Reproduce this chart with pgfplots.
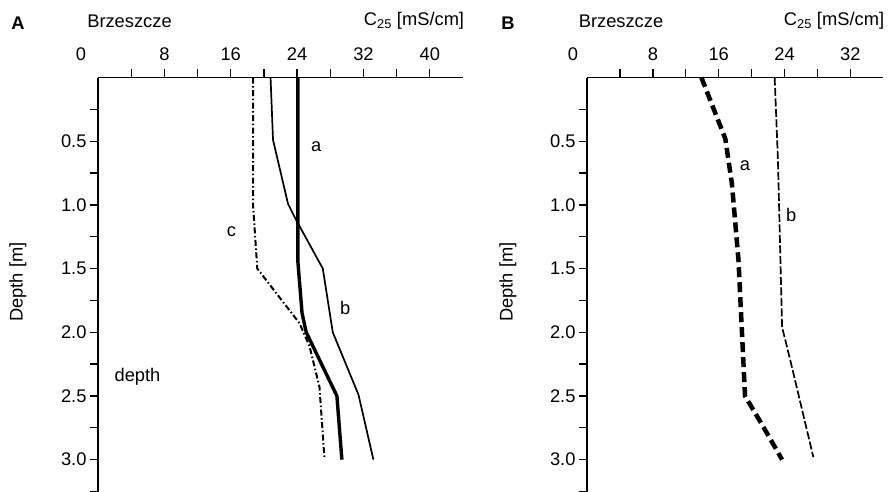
\documentclass[border=0pt]{standalone}
\usepackage{fontspec}
\setmainfont{Liberation Sans}
\usepackage{pgfplots}
\pgfplotsset{compat=1.18}
\newcommand\fs{\fontsize{18.3bp}{21bp}\selectfont}
\pgfplotsset{
  myax/.style={
    scale only axis,
    anchor=north west,
    height=414.5bp,
    ymin=0, ymax=3.254, y dir=reverse,
    axis x line*=top, axis y line*=left,
    axis line style={line width=1.3bp, -},
    tick align=outside,
    major tick length=8bp,
    every tick/.style={line width=1.3bp, black},
    tick label style={font=\fs},
    xticklabel style={yshift=5bp},
    ytick={0.25,0.5,0.75,1.0,1.25,1.5,1.75,2.0,2.25,2.5,2.75,3.0,3.25},
    yticklabels={,0.5,,1.0,,1.5,,2.0,,2.5,,3.0,},
    /pgf/number format/assume math mode=true,
    clip=false,
  }
}
\begin{document}
\begin{tikzpicture}[font=\fs]
\useasboundingbox (0,0) rectangle (890bp,492bp);
% Panel A
\begin{axis}[myax, at={(98bp,414.5bp)}, width=365bp,
  xmin=0, xmax=44,
  xtick={4,8,12,16,20,24,28,32,36,40},
  xticklabels={,8,,16,,24,,32,,40},
  extra x ticks={0}, extra x tick labels={0},
  extra x tick style={major tick length=0pt, xticklabel style={xshift=-17bp, yshift=8bp}},
]
\addplot[black, line width=3.4bp] coordinates {(24.1,0) (24.1,1.0) (24.1,1.45) (24.6,1.85) (25.1,2.0) (28.8,2.5) (29.4,3.0)};
\addplot[black, line width=1.7bp] coordinates {(20.8,0) (21.1,0.49) (22.9,0.99) (23.9,1.12) (27.1,1.5) (28.3,2.0) (31.4,2.49) (33.2,3.0)};
\addplot[black, line width=2bp, dash pattern=on 6bp off 2.5bp on 1.5bp off 2.5bp] coordinates {(18.7,0) (18.7,1.01) (19.2,1.5) (24.3,1.93) (25.5,2.11) (26.7,2.43) (27.3,2.99)};
\node at (axis cs:26.3,0.545) {a};
\node at (axis cs:29.8,1.81) {b};
\node at (axis cs:16.1,1.21) {c};
\end{axis}
% Panel B
\begin{axis}[myax, at={(587bp,414.5bp)}, width=296.3bp,
  xmin=0, xmax=36,
  xtick={4,8,12,16,20,24,28,32},
  xticklabels={,8,,16,,24,,32},
  extra x ticks={0}, extra x tick labels={0},
  extra x tick style={major tick length=0pt, xticklabel style={xshift=-14bp, yshift=8bp}},
]
\addplot[black, line width=4.5bp, dash pattern=on 10bp off 5bp] coordinates {(13.9,0) (16.8,0.48) (17.6,0.83) (18.4,1.43) (19.2,2.5) (21.4,2.74) (23.7,3.0)};
\addplot[black, line width=1.7bp, dash pattern=on 8bp off 2.5bp] coordinates {(22.8,0) (23.2,0.65) (23.7,1.96) (24.7,2.22) (27.5,2.98)};
\node at (axis cs:19.2,0.69) {a};
\node at (axis cs:24.8,1.08) {b};
\end{axis}
% texts
\node[font=\fs\bfseries] at (18bp,469bp) {A};
\node at (129.5bp,471bp) {Brzeszcze};
\node at (414bp,471bp) {C\textsubscript{25} [mS/cm]};
\node[font=\fs\bfseries] at (508bp,469bp) {B};
\node at (621bp,471bp) {Brzeszcze};
\node at (834bp,471bp) {C\textsubscript{25} [mS/cm]};
\node[rotate=90] at (18bp,210bp) {Depth [m]};
\node[rotate=90] at (508bp,210bp) {Depth [m]};
\node at (137.5bp,115bp) {depth};
\end{tikzpicture}
\end{document}
